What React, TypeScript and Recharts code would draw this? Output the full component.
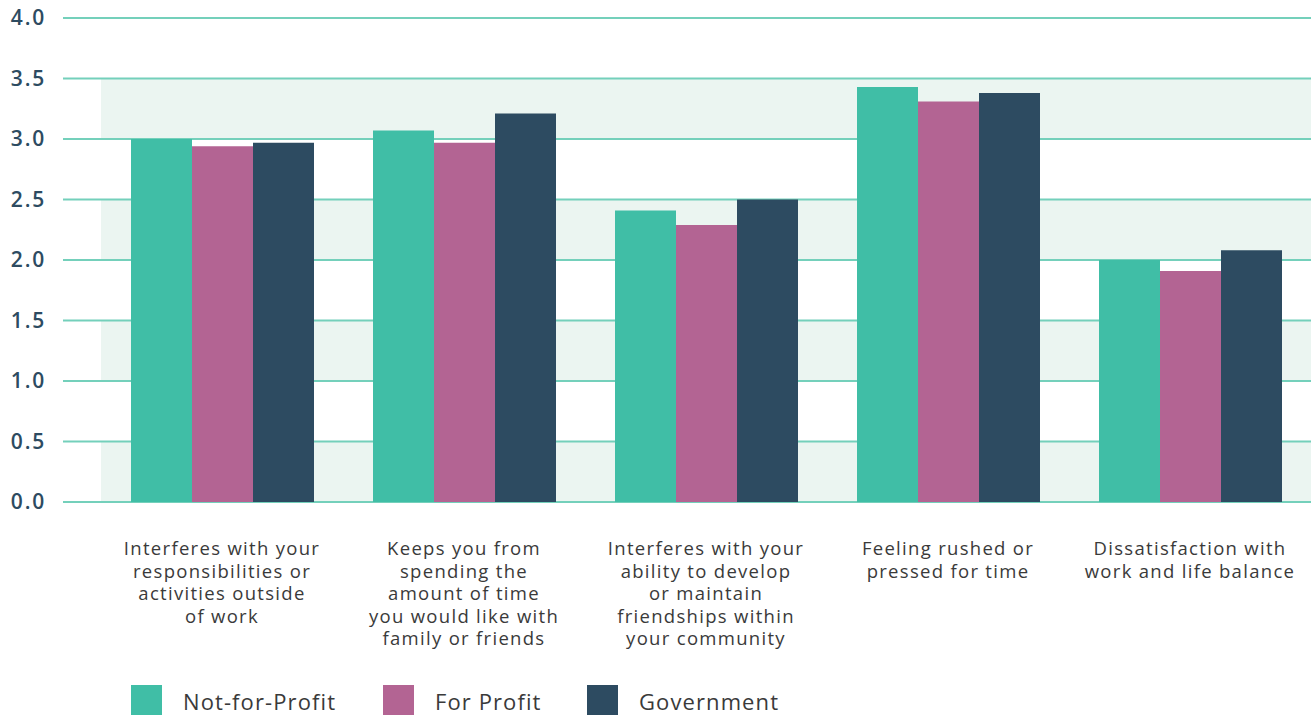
import React from "react";
import { BarChart, Bar, XAxis, YAxis, CartesianGrid, Legend } from "recharts";

const categories = [
  "Interferes with your\nresponsibilities or\nactivities outside\nof work",
  "Keeps you from\nspending the\namount of time\nyou would like with\nfamily or friends",
  "Interferes with your\nability to develop\nor maintain\nfriendships within\nyour community",
  "Feeling rushed or\npressed for time",
  "Dissatisfaction with\nwork and life balance",
];
const notForProfit = [3.0, 3.07, 2.41, 3.43, 2.0];
const forProfit = [2.94, 2.97, 2.29, 3.31, 1.91];
const government = [2.97, 3.21, 2.5, 3.38, 2.08];
const yTicks = [0, 0.5, 1, 1.5, 2, 2.5, 3, 3.5, 4];
const seriesNames = ["Not-for-Profit", "For Profit", "Government"];
const seriesColors = ["#40bea6", "#b36493", "#2d4b61"];

const data = categories.map((c, i) => ({
  category: c,
  nfp: notForProfit[i],
  fp: forProfit[i],
  gov: government[i],
}));

const FONT = "'Open Sans', sans-serif";

const XTick = (props: any) => {
  const { x, y, payload } = props;
  const lines = String(payload.value).split("\n");
  return (
    <text
      x={x}
      y={y}
      textAnchor="middle"
      fill="#3a3a3a"
      fontSize={18.5}
      letterSpacing={1.3}
      fontFamily={FONT}
    >
      {lines.map((l: string, i: number) => (
        <tspan key={i} x={x} dy={i === 0 ? 45 : 22.5}>
          {l}
        </tspan>
      ))}
    </text>
  );
};

const legendLefts = [131, 383, 587];

const LegendContent = () => (
  <div style={{ position: "relative", height: 50 }}>
    {seriesNames.map((n, i) => (
      <div
        key={n}
        style={{ position: "absolute", left: legendLefts[i], top: 20, display: "flex", alignItems: "center" }}
      >
        <div style={{ width: 31, height: 31, background: seriesColors[i] }} />
        <span
          style={{
            marginLeft: 21,
            fontSize: 22,
            letterSpacing: 1.1,
            fontFamily: FONT,
            color: "#3a3a3a",
          }}
        >
          {n}
        </span>
      </div>
    ))}
  </div>
);

export default function App() {
  return (
    <div style={{ position: "absolute", left: 0, top: 0, width: 1312, height: 715, background: "#fff", overflow: "hidden" }}>
      <BarChart
        width={1312}
        height={715}
        data={data}
        margin={{ top: 18, right: 1, bottom: 0, left: 0 }}
        barCategoryGap={30}
        barGap={0}
      >
        <CartesianGrid
          vertical={false}
          stroke="#74d0bb"
          strokeWidth={2}
          horizontalFill={["transparent", "#ebf5f1"]}
          fillOpacity={1}
        />
        <XAxis
          dataKey="category"
          axisLine={false}
          tickLine={false}
          interval={0}
          height={163}
          tick={<XTick />}
        />
        <YAxis
          domain={[0, 4]}
          ticks={yTicks}
          width={101}
          axisLine={false}
          tickLine={{ stroke: "#74d0bb", strokeWidth: 2 }}
          tickSize={38}
          tickMargin={17}
          tickFormatter={(v: number) => v.toFixed(1)}
          tick={{ fill: "#2d4b61", fontSize: 21, fontFamily: FONT, fontWeight: 600, letterSpacing: 1.8 }}
        />
        <Legend
          verticalAlign="bottom"
          height={50}
          content={<LegendContent />}
        />
        <Bar dataKey="nfp" name={seriesNames[0]} fill={seriesColors[0]} isAnimationActive={false} />
        <Bar dataKey="fp" name={seriesNames[1]} fill={seriesColors[1]} isAnimationActive={false} />
        <Bar dataKey="gov" name={seriesNames[2]} fill={seriesColors[2]} isAnimationActive={false} />
      </BarChart>
    </div>
  );
}
